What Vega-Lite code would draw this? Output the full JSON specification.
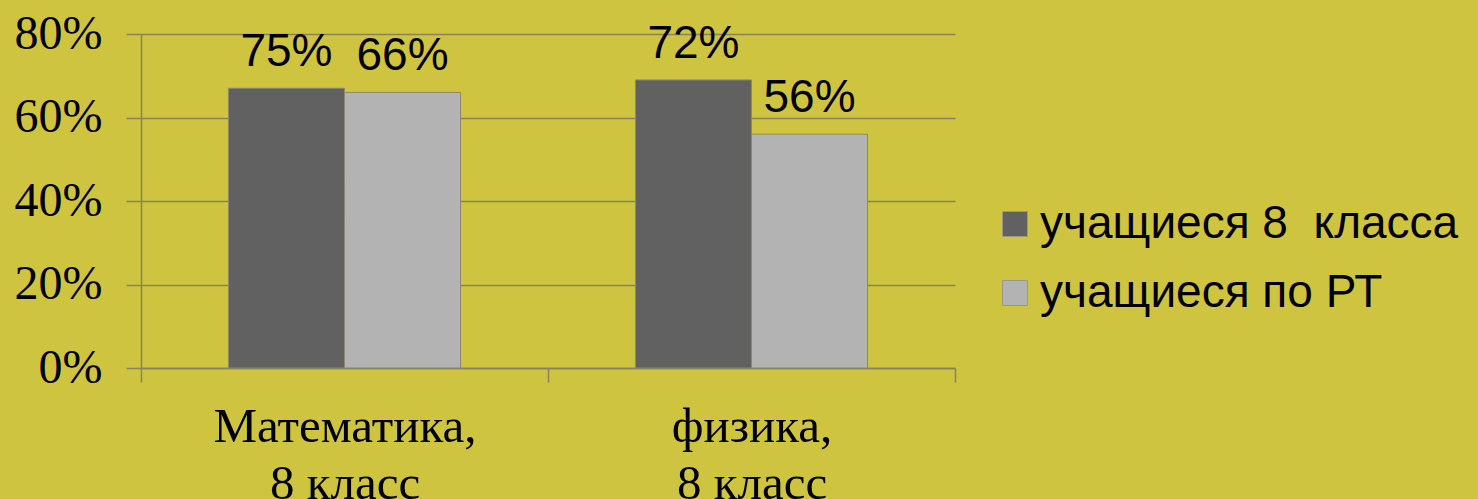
{
  "$schema": "https://vega.github.io/schema/vega-lite/v6.json",
  "autosize": "none",
  "width": 814,
  "height": 334,
  "padding": {"left": 141, "top": 34, "right": 523, "bottom": 131},
  "background": "#CFC43F",
  "config": {
    "view": {"stroke": null},
    "axis": {"domainColor": "#86835E", "tickColor": "#86835E", "gridColor": "#86835E", "domainWidth": 1.5, "tickWidth": 1.5, "gridWidth": 1.5}
  },
  "data": {
    "values": [
      {"subject": "Математика,|8 класс", "group": "учащиеся 8  класса", "value": 67, "label": "75%"},
      {"subject": "Математика,|8 класс", "group": "учащиеся по РТ", "value": 66, "label": "66%"},
      {"subject": "физика,|8 класс", "group": "учащиеся 8  класса", "value": 69, "label": "72%"},
      {"subject": "физика,|8 класс", "group": "учащиеся по РТ", "value": 56, "label": "56%"}
    ]
  },
  "encoding": {
    "x": {
      "field": "subject", "type": "nominal", "sort": null,
      "scale": {"paddingInner": 0, "paddingOuter": 0},
      "axis": {
        "title": null, "labelAngle": 0, "tickBand": "extent", "tickSize": 14,
        "labelExpr": "split(datum.label, '|')", "labelLimit": 0,
        "labelFont": "Liberation Serif", "labelFontSize": 49, "labelColor": "#000000",
        "labelBaseline": "top", "labelPadding": 20, "labelLineHeight": 57
      }
    },
    "xOffset": {
      "field": "group", "type": "nominal", "sort": null,
      "scale": {"paddingInner": 0, "paddingOuter": 0.754}
    },
    "y": {
      "field": "value", "type": "quantitative",
      "scale": {"domain": [0, 80], "nice": false},
      "axis": {
        "title": null, "values": [0, 20, 40, 60, 80], "tickSize": 15,
        "labelExpr": "datum.value + '%'",
        "labelFont": "Liberation Serif", "labelFontSize": 48, "labelColor": "#000000",
        "labelPadding": 24, "grid": true
      }
    }
  },
  "layer": [
    {
      "mark": {"type": "bar", "stroke": "#8C8A6A", "strokeWidth": 1},
      "encoding": {
        "color": {
          "field": "group", "type": "nominal", "sort": null,
          "scale": {"domain": ["учащиеся 8  класса", "учащиеся по РТ"], "range": ["#616161", "#B3B3B3"]},
          "legend": {
            "title": null, "orient": "none", "legendX": 851, "legendY": 167,
            "padding": 0, "symbolType": "square", "symbolSize": 625,
            "symbolStrokeColor": "#9A9A80", "symbolStrokeWidth": 1,
            "labelExpr": "replace(datum.label, '8  ', '8\u00a0\u00a0')",
            "labelFont": "Liberation Sans", "labelFontSize": 46, "labelColor": "#000000",
            "labelOffset": 2, "rowPadding": 23, "labelLimit": 0
          }
        }
      }
    },
    {
      "mark": {"type": "text", "font": "Liberation Sans", "fontSize": 46, "baseline": "alphabetic", "dy": -22, "color": "#000000"},
      "encoding": {"text": {"field": "label"}}
    }
  ]
}
